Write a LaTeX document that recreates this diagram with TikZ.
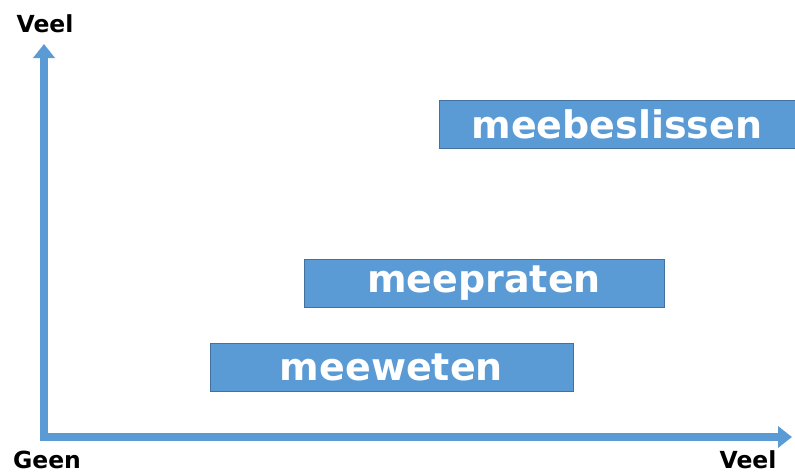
\documentclass[tikz,border=0pt]{standalone}
\usepackage{fontspec}
\setmainfont{DejaVu Sans}
\usetikzlibrary{arrows.meta}
\definecolor{vlakblauw}{HTML}{5B9BD5}
\definecolor{randblauw}{HTML}{41719C}

\begin{document}
\begin{tikzpicture}[x=1pt, y=-1pt,
	as/.style = {draw=vlakblauw, line width=8.5pt, -{Triangle[length=14pt, width=21pt]}},
	aslabel/.style = {font=\fontsize{23.5}{27}\selectfont\bfseries, text=black, inner sep=0pt},
	balk/.style = {fill=vlakblauw, draw=randblauw, line width=0.8pt, inner sep=0pt,
		minimum height=48pt, text=white, font=\fontsize{38}{42}\selectfont\bfseries}]
	\def\xMAX{795};
	\def\yMAX{474};

	\useasboundingbox (0,0) rectangle (\xMAX,\yMAX);

	% assen
	\begin{scope}
		\coordinate (oorsprong) at (44,441);
		\coordinate (ytop) at (44,44);
		\coordinate (xbegin) at (40,437);
		\coordinate (xeind) at (792,437);
		\draw [as] (oorsprong) -- (ytop);
		\draw [as] (xbegin) -- (xeind);
	\end{scope}

	\begin{scope}
		\node [aslabel] (yveel) at (45,24) {Veel};
		\node [aslabel] (geen) at (47,460) {Geen};
		\node [aslabel] (xveel) at (748,460) {Veel};
	\end{scope}

	% balken
	\begin{scope}
		\node [balk, minimum width=356pt] (meebeslissen) at (617,124) {meebeslissen};
		\node [balk, minimum width=360pt] (meepraten) at (484,283) {meepraten};
		\node [balk, minimum width=363pt] (meeweten) at (391.5,367.5) {meeweten};
	\end{scope}
\end{tikzpicture}
\end{document}
